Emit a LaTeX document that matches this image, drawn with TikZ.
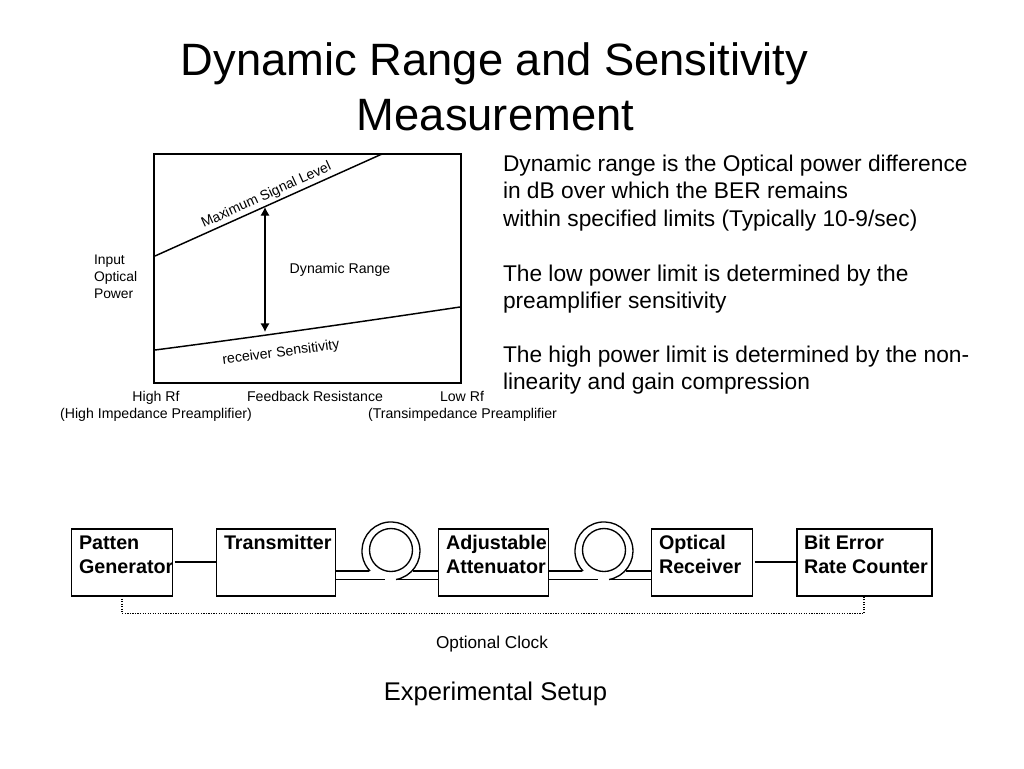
\documentclass[tikz,border=0pt]{standalone}
\usepackage{fontspec}
\setmainfont{Liberation Sans}
\usetikzlibrary{arrows.meta}
\tikzset{
  x=0.75pt,y=-0.75pt,
  every node/.style={inner sep=0pt,outer sep=0pt},
  ttl/.style={anchor=base,font=\fontsize{34}{40}\selectfont},
  para/.style={anchor=base west,font=\fontsize{17.05}{20}\selectfont},
  small/.style={anchor=base,font=\fontsize{10.6}{12}\selectfont},
  smallw/.style={anchor=base west,font=\fontsize{10.4}{12}\selectfont},
  boxn/.style={draw,line width=1pt,anchor=north west,minimum height=50.25pt},
  lab/.style={anchor=base west,font=\fontsize{14.8}{17}\selectfont\bfseries},
  conn/.style={line width=1pt},
  fib/.style={line width=1pt},
  gline/.style={line width=1.1pt},
}
\begin{document}
\begin{tikzpicture}
\useasboundingbox (0,0) rectangle (1024,768);
\node[ttl] (t1) at (494.5,75) {Dynamic Range and Sensitivity};
\node[ttl] (t2) at (495.5,130) {Measurement};

% graph
\draw[line width=1pt] (154,154) rectangle (461,383);
\coordinate (m1) at (155,256);
\coordinate (m2) at (382,154);
\coordinate (s1) at (155,350);
\coordinate (s2) at (460,307);
\draw[gline] (m1) -- (m2);
\draw[gline] (s1) .. controls (255,337) and (360,322) .. (s2);
\coordinate (dt) at (265,207);
\coordinate (db) at (265,332);
\draw[line width=1pt,{Latex[length=6.5pt,width=7pt]}-{Latex[length=6.5pt,width=7pt]}] (dt) -- (db);
\node[anchor=center,font=\fontsize{10.5}{12}\selectfont,rotate=24.5] (msl) at (266.5,195.5) {Maximum Signal Level};
\node[anchor=center,font=\fontsize{10.6}{12}\selectfont,rotate=7.5] (rs) at (281,353) {receiver Sensitivity};
\node[small] (dr) at (340,273) {Dynamic Range};
\node[smallw] (i1) at (94,264.5) {Input};
\node[smallw] (i2) at (94,281.5) {Optical};
\node[smallw] (i3) at (94,298.5) {Power};
\node[small] (h1) at (156,401) {High Rf};
\node[small] (f1) at (315,401) {Feedback Resistance};
\node[small] (l1) at (462,401) {Low Rf};
\node[small] (h2) at (156,418.5) {(High Impedance Preamplifier)};
\node[small] (t3) at (462.5,418.5) {(Transimpedance Preamplifier};

% paragraph
\node[para] (p1) at (503,171) {Dynamic range is the Optical power difference};
\node[para] (p2) at (503,198.5) {in dB over which the BER remains};
\node[para] (p3) at (503,226) {within specified limits (Typically 10-9/sec)};
\node[para] (p4) at (503,281) {The low power limit is determined by the};
\node[para] (p5) at (503,308.5) {preamplifier sensitivity};
\node[para] (p6) at (503,362) {The high power limit is determined by the non-};
\node[para] (p7) at (503,389.5) {linearity and gain compression};

% boxes
\node[boxn,minimum width=75.75pt] (pg) at (71.5,529) {};
\node[boxn,minimum width=89.25pt] (tx) at (216.5,529) {};
\node[boxn,minimum width=82.5pt] (at) at (438.5,529) {};
\node[boxn,minimum width=75.75pt] (rx) at (651.5,529) {};
\node[boxn,minimum width=101.25pt] (be) at (797,529) {};
\node[lab] (a1) at (79,549) {Patten};
\node[lab] (a2) at (79,573) {Generator};
\node[lab] (b1) at (224,549) {Transmitter};
\node[lab] (c1) at (446,549) {Adjustable};
\node[lab] (c2) at (446,573) {Attenuator};
\node[lab] (d1) at (659,549) {Optical};
\node[lab] (d2) at (659,573) {Receiver};
\node[lab] (e1) at (804,549) {Bit Error};
\node[lab] (e2) at (804,573) {Rate Counter};

% connectors
\coordinate (cp1) at (122,596);
\coordinate (cp2) at (864,596);
\draw[conn] (pg.east |- 0,562) ++(2,0) -- (tx.west |- 0,562);
\draw[conn] (rx.east |- 0,562) ++(2,0) -- (be.west |- 0,562);
\draw[line width=0.9pt,densely dotted] (cp1) -- (122,613.5) -- (864,613.5) -- (cp2);

% fibre coils
\foreach \cx/\a/\b in {391/tx/at,604/at/rx}{
  \draw[fib] (\cx,550) circle (21.5);
  \draw[fib] ({\cx+5},579.5) arc (80:-224:29);
  \draw[fib] (\a.east |- 0,571) -- ({\cx-22},571);
  \draw[fib] ({\cx+22},571) -- (\b.west |- 0,571);
  \draw[fib] (\a.east |- 0,579.5) -- ({\cx-6},579.5);
  \draw[fib] ({\cx+5},579.5) -- (\b.west |- 0,579.5);
}
\node[font=\fontsize{12.9}{15}\selectfont,anchor=base] (oc) at (492,648) {Optional Clock};
\node[font=\fontsize{19.2}{22}\selectfont,anchor=base] (ex) at (495.5,700) {Experimental Setup};
\end{tikzpicture}
\end{document}
